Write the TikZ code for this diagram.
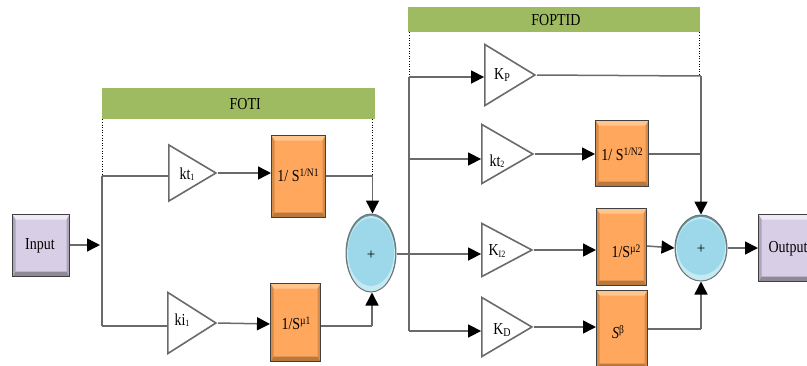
\documentclass[tikz,border=0pt]{standalone}
\usepackage{graphicx}
\usepackage{fontspec}
\setmainfont{Liberation Serif}
\usetikzlibrary{arrows.meta,shapes.geometric,calc}
\definecolor{orangeF}{HTML}{FFA75C}
\definecolor{orangeL}{HTML}{FFC58F}
\definecolor{orangeD}{HTML}{B9783E}
\definecolor{lilacF}{HTML}{D8CEE6}
\definecolor{lilacL}{HTML}{EFEAF5}
\definecolor{lilacD}{HTML}{8F8899}
\definecolor{blueF}{HTML}{9CD8EA}
\definecolor{blueL}{HTML}{C4EAF4}
\definecolor{blueD}{HTML}{5F97A8}
\definecolor{barG}{HTML}{9FBB62}
\definecolor{lineG}{HTML}{6A6A6A}
\tikzset{
  wire/.style={draw=lineG,line width=1.5pt},
  arrowwire/.style={wire,-{Triangle[length=13pt,width=13pt,color=black]}},
  dots/.style={draw=black,line width=0.6pt,dotted},
  bar/.style={fill=barG,draw=none,inner sep=0pt,anchor=north west,font=\fontsize{14}{16}\selectfont},
  gain/.style={isosceles triangle,isosceles triangle stretches,draw=lineG,line width=1.6pt,
    fill=white,inner sep=0pt,anchor=apex,shape border rotate=0},
  bevel/.style n args={3}{draw=black!75,line width=1pt,fill=#1,inner sep=0pt,anchor=north west,
    path picture={
      \fill[#2] (path picture bounding box.north west) -- (path picture bounding box.north east)
        -- ([xshift=-3pt,yshift=-5pt]path picture bounding box.north east)
        -- ([xshift=3pt,yshift=-5pt]path picture bounding box.north west) -- cycle;
      \fill[#3] (path picture bounding box.south west) -- (path picture bounding box.south east)
        -- ([xshift=-3pt,yshift=5pt]path picture bounding box.south east)
        -- ([xshift=3pt,yshift=5pt]path picture bounding box.south west) -- cycle;
      \fill[#3!60!#1] (path picture bounding box.north east) -- (path picture bounding box.south east)
        -- ([xshift=-3pt,yshift=5pt]path picture bounding box.south east)
        -- ([xshift=-3pt,yshift=-5pt]path picture bounding box.north east) -- cycle;
      \fill[#3!60!#1] (path picture bounding box.north west) -- (path picture bounding box.south west)
        -- ([xshift=3pt,yshift=5pt]path picture bounding box.south west)
        -- ([xshift=3pt,yshift=-5pt]path picture bounding box.north west) -- cycle;
    }},
  fobox/.style={bevel={orangeF}{orangeL}{orangeD}},
  iobox/.style={bevel={lilacF}{lilacL}{lilacD}},
  summer/.style 2 args={ellipse,draw=black!55,line width=1pt,fill=blueD,inner sep=0pt,
    minimum width=2*#1 pt,minimum height=2*#2 pt,
    path picture={
      \fill[blueL] (path picture bounding box.center) ++(0pt,-1pt) ellipse [x radius=#1 pt-1pt,y radius=#2 pt-1pt];
      \fill[blueF] (path picture bounding box.center) ++(0pt,1pt) ellipse [x radius=#1 pt-2pt,y radius=#2 pt-5pt];
    }},
  lab/.style={inner sep=0pt,font=\fontsize{14}{16}\selectfont},
}
\newcommand{\tall}[1]{\scalebox{1}[1.2]{#1}}
\newcommand{\smallsup}[1]{\raisebox{4pt}{\fontsize{9.5}{10}\selectfont #1}}
\newcommand{\smallsub}[1]{\raisebox{-1pt}{\fontsize{8}{9}\selectfont #1}}
\begin{document}
\begin{tikzpicture}[x=1pt,y=-1pt]
\path[use as bounding box,clip] (0,0) rectangle (807,365);
% bars
\node[bar,minimum width=273pt,minimum height=31pt,text width=273pt,align=center] (foti) at (102,88) {\hspace*{13pt}\tall{FOTI}};
\node[bar,minimum width=291.5pt,minimum height=25pt,text width=291.5pt,align=center] (foptid) at (408,7) {\hspace*{4pt}\tall{FOPTID}};
% boxes
\node[iobox,minimum width=57pt,minimum height=62pt] (input) at (12,214) {};
\node[iobox,minimum width=60pt,minimum height=67pt] (output) at (758,214) {};
\node[fobox,minimum width=54pt,minimum height=82pt] (bA) at (271,135) {};
\node[fobox,minimum width=50pt,minimum height=78pt] (bB) at (270,283) {};
\node[fobox,minimum width=53pt,minimum height=66pt] (bC) at (595,120) {};
\node[fobox,minimum width=50pt,minimum height=77pt] (bD) at (596,208) {};
\node[fobox,minimum width=51pt,minimum height=78pt] (bE) at (596,290) {};
% summers
\node[summer={25}{39}] (sumL) at (371,253) {};
\node[summer={26}{33}] (sumR) at (701,248) {};
% gains
\node[gain,minimum height=47pt,minimum width=56pt] (gA) at (218,173) {};
\node[gain,minimum height=48pt,minimum width=61pt] (gB) at (218,323) {};
\node[gain,minimum height=50pt,minimum width=61pt] (gC) at (537,75) {};
\node[gain,minimum height=51pt,minimum width=59pt] (gD) at (535,154) {};
\node[gain,minimum height=50pt,minimum width=53pt] (gE) at (534,250) {};
\node[gain,minimum height=50pt,minimum width=59pt] (gF) at (534,327) {};
% labels
\node[lab] (tInput) at (40,246) {\tall{Input}};
\node[lab] (tOutput) at (788,249) {\tall{Output}};
\node[lab] (tA) at (298,175) {\tall{1/ S\smallsup{1/N1}}};
\node[lab] (tB) at (296,323) {\tall{1/S\smallsup{µ1}}};
\node[lab] (tC) at (622,154) {\tall{1/ S\smallsup{1/N2}}};
\node[lab] (tD) at (626,251) {\tall{1/S\smallsup{µ2}}};
\node[lab] (tE) at (618,332) {\tall{\textit{S}\smallsup{β}}};
\node[lab] (lA) at (187,174) {\tall{kt\smallsub{1}}};
\node[lab] (lB) at (182,320) {\tall{ki\smallsub{1}}};
\node[lab] (lC) at (502,75) {\tall{K\smallsub{\fontsize{10}{10}\selectfont P}}};
\node[lab] (lD) at (497,161) {\tall{kt\smallsub{2}}};
\node[lab] (lE) at (497,251) {\tall{K\smallsub{I2}}};
\node[lab] (lF) at (502,330) {\tall{K\smallsub{\fontsize{10}{10}\selectfont D}}};
\node[lab,font=\fontsize{15}{18}\selectfont] (plusL) at (371,255) {+};
\node[lab,font=\fontsize{15}{18}\selectfont] (plusR) at (701,249) {+};
% junctions
\coordinate (jI) at (100,245);
\coordinate (jT) at (102,176);
\coordinate (jB) at (102,326);
\coordinate (kT) at (409,77);
\coordinate (kM) at (409,159);
\coordinate (kB) at (409,331);
\coordinate (kC) at (409,254);
\coordinate (mT) at (701,76);
\coordinate (mM) at (701,154);
\coordinate (mB) at (701,329);
\coordinate (nT) at (372.5,176);
\coordinate (nB) at (372,326);
% dotted guides
\draw[dots] (foti.south west) -- (jT);
\draw[dots] (foti.south east -| nT) -- (nT);
\draw[dots] (foptid.south west -| kT) -- (kT);
\draw[dots] (foptid.south east -| mT) ++(-1.5,0) -- (699.5,75);
% connectors, left
\draw[arrowwire] (input.east |- jI) -- (jI);
\draw[wire] (jT) -- (jB);
\draw[wire] (jT) -- (jT -| gA.left corner);
\draw[wire] (jB) -- (jB -| gB.left corner);
\draw[arrowwire] (gA.apex) -- (gA.apex -| bA.west);
\draw[arrowwire] (gB.apex) -- (bB.west |- 0,324);
\draw[wire] (bA.east |- nT) -- (nT);
\draw[arrowwire] (nT) -- (nT |- sumL.north);
\draw[wire] (bB.east |- nB) -- (nB);
\draw[arrowwire] (nB) -- (nB |- sumL.south);
% connectors, right
\draw[arrowwire] (sumL.east |- kC) -- (kC -| gE.left corner);
\draw[wire] (kT) -- (kB);
\draw[arrowwire] (kT) -- (kT -| gC.left corner);
\draw[arrowwire] (kM) -- (kM -| gD.left corner);
\draw[arrowwire] (kB) -- (kB -| gF.left corner);
\draw[wire] (gC.apex) -- (mT);
\draw[arrowwire] (mT) -- (sumR.north);
\draw[arrowwire] (gD.apex) -- (gD.apex -| bC.west);
\draw[wire] (bC.east |- mM) -- (mM);
\draw[arrowwire] (gE.apex) -- (gE.apex -| bD.west);
\draw[arrowwire] (bD.east |- 0,246) -- (sumR.west);
\draw[arrowwire] (gF.apex) -- (gF.apex -| bE.west);
\draw[wire] (bE.east |- mB) -- (mB);
\draw[arrowwire] (mB) -- (sumR.south);
\draw[arrowwire] (sumR.east) -- (output.west |- sumR.east);
\end{tikzpicture}
\end{document}
